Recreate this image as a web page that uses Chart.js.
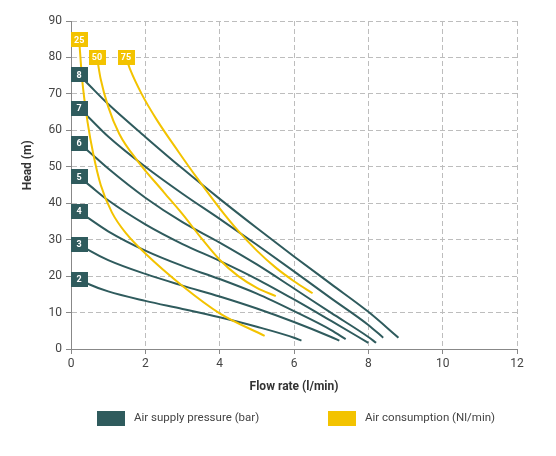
<!DOCTYPE html>
<html>
<head>
<meta charset="utf-8">
<script src="https://cdn.jsdelivr.net/npm/chart.js@4/dist/chart.umd.min.js"></script>
<style>
  html, body { margin: 0; padding: 0; background: #fff; }
</style>
</head>
<body>
<canvas id="grafico" width="556" height="456"></canvas>
<script>
// air supply pressure curves, [flow l/min, head m] - first point is where the tag sits
const bar2 = [[0.22, 19.2], [0.5, 17.7], [1, 15.8], [2, 13.2], [3, 11], [4, 8.7], [5, 6.1], [6, 3.1], [6.2, 2.3]];
const bar3 = [[0.22, 28.8], [0.5, 27], [1, 24.4], [2, 20.6], [3, 17.4], [4, 14.4], [5, 11.1], [6, 7.4], [7, 3.3], [7.22, 2.3]];
const bar4 = [[0.22, 37.7], [0.5, 35.7], [1, 32.3], [2, 27], [3, 22.8], [4, 19.2], [5, 15.2], [6, 10.4], [7, 5.2], [7.39, 2.7]];
const bar5 = [[0.22, 47.2], [0.5, 44.9], [1, 40.8], [2, 34.2], [3, 28.8], [4, 24.2], [5, 19.2], [6, 13.6], [7, 7.7], [8, 1.7]];
const bar6 = [[0.22, 56.5], [0.5, 54], [1, 49.5], [2, 41.5], [3, 34.8], [4, 29.2], [5, 23.2], [6, 16.6], [7, 9.9], [8, 3.3], [8.21, 1.7]];
const bar7 = [[0.22, 66.1], [0.5, 63.3], [1, 58.3], [2, 50], [3, 42.6], [4, 35.7], [5, 28.6], [6, 21.3], [7, 13.9], [8, 6.6], [8.4, 3.1]];
const bar8 = [[0.22, 75.2], [0.5, 72.3], [1, 67.2], [2, 58.2], [3, 49.5], [4, 41.2], [5, 33.2], [6, 25.4], [7, 17.8], [8, 10.2], [8.81, 3.1]];

// air consumption curves (Nl/min)
const nl25 = [[0.22, 84.8], [0.3, 74], [0.45, 62], [0.6, 53.5], [0.8, 45], [1.1, 37.5], [1.5, 31.5], [2, 26.2], [3, 17.3], [4, 9.8], [5.21, 3.6]];
const nl50 = [[0.7, 80], [0.8, 74], [1, 66.5], [1.3, 59], [1.8, 51.5], [2.5, 43], [3, 37], [3.5, 30.5], [4, 24.5], [4.5, 20], [5, 16.8], [5.51, 14.5]];
const nl75 = [[1.48, 80], [1.6, 76.5], [1.9, 70], [2.3, 63], [2.9, 54], [3.4, 46.8], [4, 38.6], [4.5, 32.4], [5, 27], [5.5, 22.4], [6, 18.6], [6.5, 15.3]];

const pressureTags = ['2', '3', '4', '5', '6', '7', '8'];
const pressureCurves = [bar2, bar3, bar4, bar5, bar6, bar7, bar8];
const airTags = ['25', '50', '75'];
const airCurves = [nl25, nl50, nl75];

const xMax = 12, xStep = 2;
const yMax = 90, yStep = 10;

const teal = '#2f5b5d';
const gold = '#f3c300';
const fontName = 'Roboto, "Liberation Sans", Arial, sans-serif';

function toPoints(arr) {
  return arr.map(p => ({ x: p[0], y: p[1] }));
}

const datasets = [];
airCurves.forEach((c, i) => {
  datasets.push({ label: 'Air consumption (Nl/min)', tag: airTags[i], data: toPoints(c), borderColor: gold, backgroundColor: gold });
});
pressureCurves.forEach((c, i) => {
  datasets.push({ label: 'Air supply pressure (bar)', tag: pressureTags[i], data: toPoints(c), borderColor: teal, backgroundColor: teal });
});

const extras = {
  id: 'extras',
  afterDatasetsDraw(chart) {
    const { ctx, scales: { x, y } } = chart;
    ctx.save();
    chart.data.datasets.forEach(ds => {
      const p = ds.data[0];
      const px = x.getPixelForValue(p.x);
      const py = y.getPixelForValue(p.y);
      ctx.fillStyle = ds.borderColor;
      ctx.fillRect(Math.round(px - 8.5), Math.round(py - 7.5), 17, 15);
      ctx.fillStyle = '#fff';
      ctx.font = 'bold 9px ' + fontName;
      ctx.textAlign = 'center';
      ctx.textBaseline = 'middle';
      ctx.fillText(ds.tag, px, py + 0.5);
    });
    ctx.restore();
  },
  afterDraw(chart) {
    const ctx = chart.ctx;
    const area = chart.chartArea;
    ctx.save();
    // y title
    ctx.translate(28, area.top + (area.bottom - area.top) * 0.44);
    ctx.rotate(-Math.PI / 2);
    ctx.font = 'bold 12px ' + fontName;
    ctx.fillStyle = '#333';
    ctx.textAlign = 'center';
    ctx.textBaseline = 'middle';
    ctx.fillText('Head (m)', 0, 0);
    ctx.restore();

    // legend
    ctx.save();
    const items = [
      { text: 'Air supply pressure (bar)', color: teal, x: 97 },
      { text: 'Air consumption (Nl/min)', color: gold, x: 328 }
    ];
    ctx.font = '11.5px ' + fontName;
    ctx.textBaseline = 'middle';
    ctx.textAlign = 'left';
    items.forEach(it => {
      ctx.fillStyle = it.color;
      ctx.fillRect(it.x, 411, 28, 15);
      ctx.fillStyle = '#444';
      ctx.fillText(it.text, it.x + 37, 418);
    });
    ctx.restore();
  }
};

new Chart(document.getElementById('grafico'), {
  type: 'scatter',
  data: { datasets: datasets },
  options: {
    responsive: false,
    animation: false,
    layout: { padding: { top: 21, right: 39, bottom: 58, left: 0 } },
    elements: {
      point: { radius: 0, hoverRadius: 0 },
      line: { borderWidth: 2, cubicInterpolationMode: 'monotone' }
    },
    datasets: { scatter: { showLine: true } },
    plugins: {
      legend: { display: false },
      tooltip: { enabled: false }
    },
    scales: {
      x: {
        min: 0,
        max: xMax,
        afterFit: s => { s.height = 49; },
        ticks: { stepSize: xStep, color: '#444', padding: 3, font: { family: fontName, size: 12 } },
        grid: { color: '#bdbdbd', tickColor: '#888', tickLength: 5 },
        border: { color: '#888', dash: [5, 3] },
        title: {
          display: true,
          text: 'Flow rate (l/min)',
          color: '#333',
          padding: { top: 4, bottom: 4 },
          font: { family: fontName, size: 12, weight: 'bold' }
        }
      },
      y: {
        min: 0,
        max: yMax,
        afterFit: s => { s.width = 71; },
        ticks: { stepSize: yStep, color: '#444', padding: 4, font: { family: fontName, size: 12 } },
        grid: { color: '#bdbdbd', tickColor: '#888', tickLength: 5 },
        border: { color: '#888', dash: [5, 3] }
      }
    }
  },
  plugins: [extras]
});
</script>
</body>
</html>
